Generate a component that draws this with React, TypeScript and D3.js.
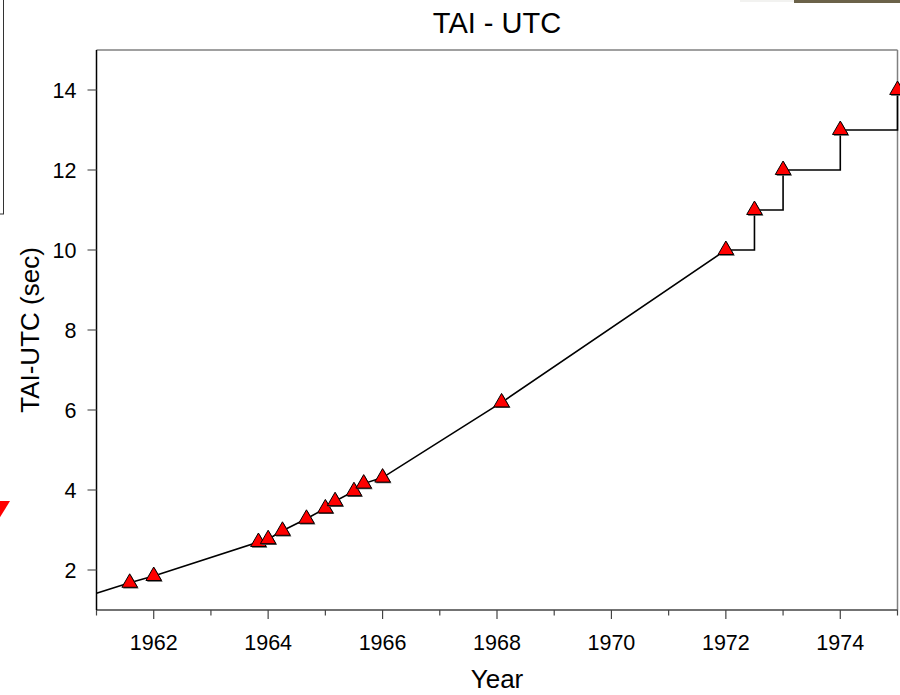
import React from 'react';
import * as d3 from 'd3';

// TAI - UTC offset (seconds) at each adjustment date
const years = [1961.58, 1962.0, 1963.83, 1964.0, 1964.25, 1964.67, 1965.0, 1965.17, 1965.5, 1965.67, 1966.0, 1968.08, 1972.0, 1972.5, 1973.0, 1974.0, 1975.0];
const offsets = [1.68, 1.85, 2.7, 2.77, 2.98, 3.28, 3.54, 3.72, 3.97, 4.16, 4.31, 6.19, 10, 11, 12, 13, 14];
// where the drawn curve begins (left edge of the plot)
const startYear = 1961.0;
const startOffset = 1.42;
// from here on the offset changes in whole-second steps
const leapSecondStart = 1972.0;

const xMajorTicks = [1962, 1964, 1966, 1968, 1970, 1972, 1974];
const xMinorTicks = [1961, 1963, 1965, 1967, 1969, 1971, 1973, 1975];
const yTicks = [2, 4, 6, 8, 10, 12, 14];

const W = 900;
const H = 695;
const margin = { top: 50, right: 2.5, bottom: 85, left: 96.5 };
const font = '"Liberation Sans", Arial, sans-serif';

export default function App() {
  const x = d3.scaleLinear().domain([1961, 1975]).range([margin.left, W - margin.right]);
  const y = d3.scaleLinear().domain([1, 15]).range([H - margin.bottom, margin.top]);

  const points = years.map((yr, i) => ({ year: yr, value: offsets[i] }));
  const smooth = [{ year: startYear, value: startOffset }, ...points.filter(p => p.year <= leapSecondStart)];
  const stepped = points.filter(p => p.year >= leapSecondStart);

  const linear = d3.line<{ year: number; value: number }>()
    .x(d => x(d.year))
    .y(d => y(d.value));
  const step = d3.line<{ year: number; value: number }>()
    .x(d => x(d.year))
    .y(d => y(d.value))
    .curve(d3.curveStepAfter);

  const tri = d3.symbol().type(d3.symbolTriangle).size(105)() as string;

  const x0 = margin.left;
  const x1 = W - margin.right;
  const y0 = H - margin.bottom;
  const y1 = margin.top;

  return (
    <svg width={W} height={H} style={{ position: 'absolute', left: 0, top: 0, background: '#fff' }}>
      {/* bits of neighbouring slide content */}
      <rect x={740} y={0} width={54} height={2} fill="#f2f2f0" />
      <rect x={794} y={0} width={106} height={3} fill="#6b6249" />
      <path d="M3.5,0 V214 M0,214 H4" stroke="#333" strokeWidth={1} fill="none" />
      <path d="M-12,501 L10,501 L-1,519 Z" fill="#ff0000" />

      <text x={(x0 + x1) / 2} y={33} textAnchor="middle" fontFamily={font} fontSize={29}>TAI - UTC</text>

      {/* frame */}
      <line x1={x0} x2={x1} y1={y1} y2={y1} stroke="#808080" strokeWidth={1.5} />
      <line x1={x1} x2={x1} y1={y1} y2={y0} stroke="#808080" strokeWidth={1.5} />

      {/* x axis */}
      <line x1={x0} x2={x1} y1={y0} y2={y0} stroke="#444" strokeWidth={1.5} />
      {xMajorTicks.map(t => (
        <g key={'xM' + t}>
          <line x1={x(t)} x2={x(t)} y1={y0} y2={y0 + 9} stroke="#444" strokeWidth={1.2} />
          <text x={x(t)} y={y0 + 40} textAnchor="middle" fontFamily={font} fontSize={21.5}>{t}</text>
        </g>
      ))}
      {xMinorTicks.map(t => (
        <line key={'xm' + t} x1={x(t)} x2={x(t)} y1={y0} y2={y0 + 5.5} stroke="#444" strokeWidth={1.2} />
      ))}
      <text x={(x0 + x1) / 2} y={688} textAnchor="middle" fontFamily={font} fontSize={26}>Year</text>

      {/* y axis */}
      <line x1={x0} x2={x0} y1={y1} y2={y0} stroke="#000" strokeWidth={1.5} />
      {yTicks.map(t => (
        <g key={'y' + t}>
          <line x1={x0 - 9} x2={x0} y1={y(t)} y2={y(t)} stroke="#555" strokeWidth={1.2} />
          <text x={x0 - 20} y={y(t) + 7.5} textAnchor="end" fontFamily={font} fontSize={21.5}>{t}</text>
        </g>
      ))}
      <text transform={`translate(39,${(y0 + y1) / 2}) rotate(-90)`} textAnchor="middle" fontFamily={font} fontSize={26}>
        TAI-UTC (sec)
      </text>

      {/* data */}
      <path d={linear(smooth) ?? ''} fill="none" stroke="#000" strokeWidth={1.6} />
      <path d={step(stepped) ?? ''} fill="none" stroke="#000" strokeWidth={1.6} />
      {points.map((p, i) => (
        <g key={i} transform={`translate(${x(p.year)},${y(p.value)})`}>
          <path d={tri} transform="translate(1.2,1.2)" fill="#555" />
          <path d={tri} fill="#ff0000" stroke="#000" strokeWidth={1} />
        </g>
      ))}
    </svg>
  );
}
